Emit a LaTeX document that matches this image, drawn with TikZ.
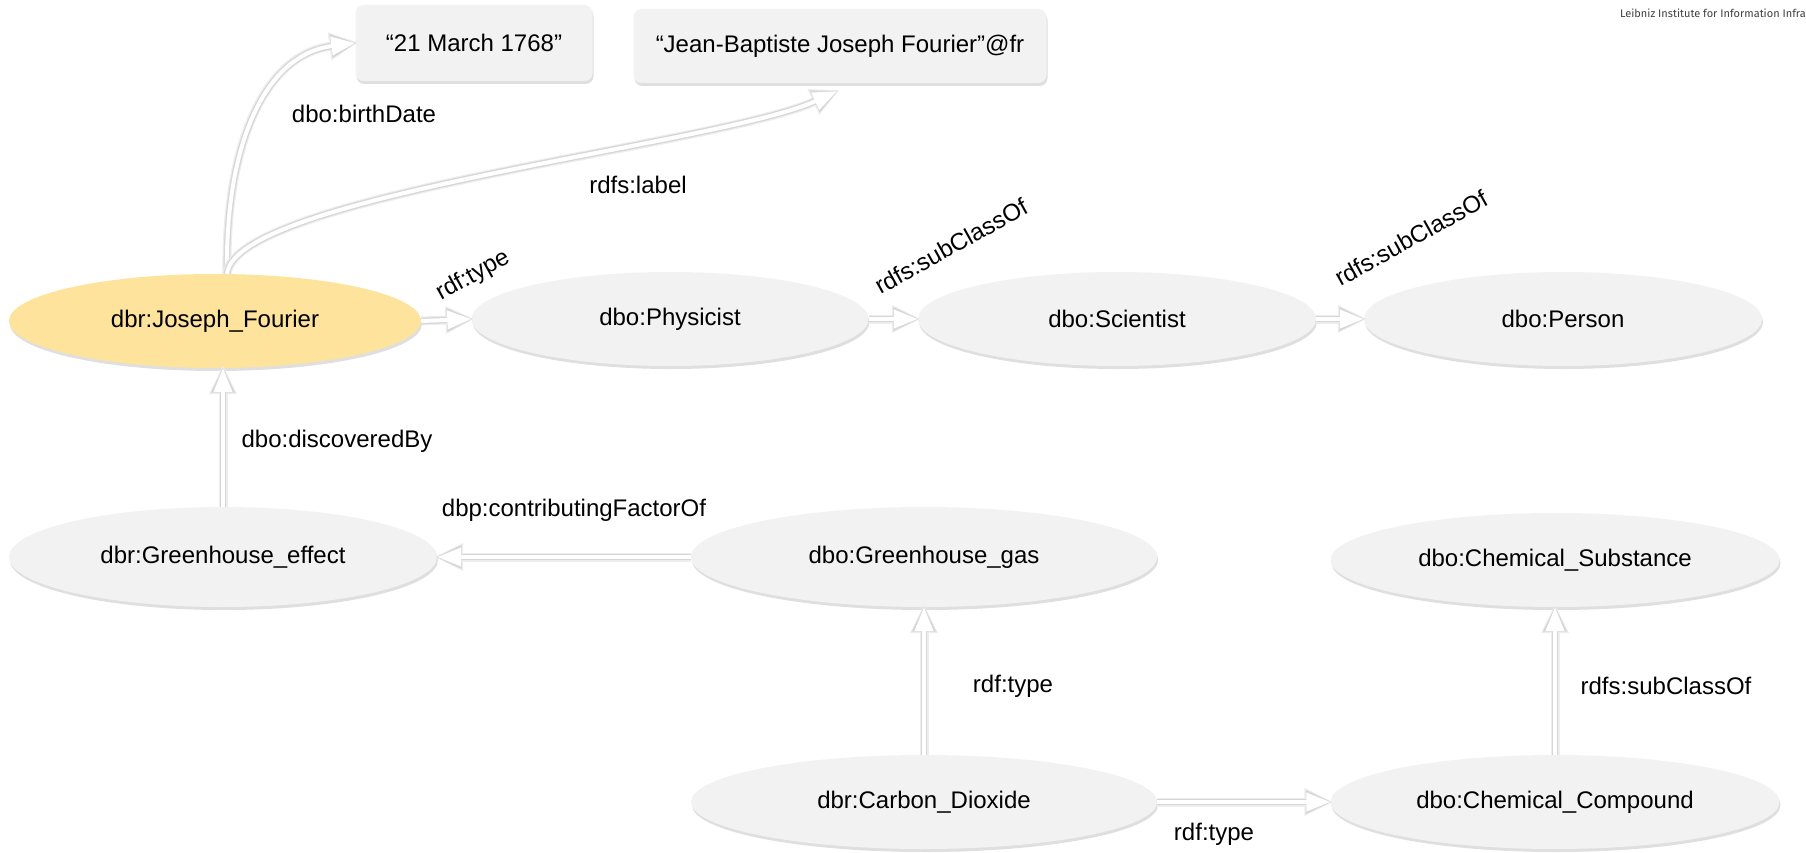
\documentclass[tikz,border=0pt]{standalone}
\usepackage{fontspec}
\setmainfont{Liberation Sans}
\newfontfamily\leibnizfont{Fira Sans}
\usetikzlibrary{shapes.geometric,arrows.meta,shadows,calc}
\definecolor{nodegray}{HTML}{F2F2F2}
\definecolor{fyellow}{HTML}{FDE39B}
\begin{document}
\begin{tikzpicture}[x=1pt,y=-1pt,
  every node/.style={font=\fontsize{24}{28}\selectfont, text=black},
  res/.style={ellipse, fill=nodegray, inner sep=0pt, minimum height=94pt,
    drop shadow={shadow xshift=1pt, shadow yshift=-3pt, opacity=0.25}},
  lit/.style={rectangle, rounded corners=8pt, fill=nodegray, inner sep=0pt,
    drop shadow={shadow xshift=1pt, shadow yshift=-3pt, opacity=0.25}},
  arr/.style={-{Triangle[length=24pt,width=18pt]}, draw=white, line width=4pt,
    preaction={draw=black!7, line width=9pt, shorten >=-3pt,
      -{Triangle[length=29pt,width=26pt]}},
    preaction={draw=black!16, line width=6.5pt, shorten >=-1.5pt,
      -{Triangle[length=26pt,width=22pt]}}},
  lbl/.style={inner sep=0pt}]
\useasboundingbox (0,0) rectangle (1806,853);

% nodes
\node[res, fill=fyellow, minimum width=412pt] (jf) at (215,321) {dbr:Joseph\_Fourier};
\node[res, minimum width=397pt] (ph) at (670,319) {dbo:Physicist};
\node[res, minimum width=398pt] (sc) at (1117,319) {dbo:Scientist};
\node[res, minimum width=398pt] (pe) at (1563,319) {dbo:Person};
\node[res, minimum width=428pt, minimum height=100pt] (ge) at (223,557) {dbr:Greenhouse\_effect};
\node[res, minimum width=466pt, minimum height=100pt] (gg) at (924,557) {dbo:Greenhouse\_gas};
\node[res, minimum width=449pt] (cs) at (1555,560) {dbo:Chemical\_Substance};
\node[res, minimum width=466pt] (cd) at (924,802) {dbr:Carbon\_Dioxide};
\node[res, minimum width=449pt] (cc) at (1555,802) {dbo:Chemical\_Compound};
\node[lit, minimum width=237pt, minimum height=76pt] (bd) at (474,43) {“21 March 1768”};
\node[lit, minimum width=413pt, minimum height=74pt] (jl) at (840,46) {“Jean-Baptiste Joseph Fourier”@fr};

% connectors
\draw[arr] (jf.east) -- (ph.west);
\draw[arr] (ph.east) -- (sc.west);
\draw[arr] (sc.east) -- (pe.west);
\draw[arr] (ge.north) -- (ge.north |- jf.south);
\draw[arr] (gg.west) -- (ge.east);
\draw[arr] (cd.north) -- (cd.north |- gg.south);
\draw[arr] (cd.east) -- (cc.west);
\draw[arr] (cc.north) -- (cc.north |- cs.south);
\draw[arr] ([xshift=12pt]jf.north) .. controls (225,150) and (262,55) .. (bd.west);
\draw[arr] ([xshift=12pt]jf.north) .. controls (235,195) and (720,145) .. ([xshift=-3pt,yshift=-8pt]jl.south);

% edge labels
\node[lbl] (l1) at (364,114) {dbo:birthDate};
\node[lbl] (l2) at (638,185) {rdfs:label};
\node[lbl, rotate=29] (l3) at (473,276) {rdf:type};
\node[lbl, rotate=29] (l4) at (951,246) {rdfs:subClassOf};
\node[lbl, rotate=29] (l5) at (1411,238) {rdfs:subClassOf};
\node[lbl] (l6) at (337,441) {dbo:discoveredBy};
\node[lbl] (l7) at (574,510) {dbp:contributingFactorOf};
\node[lbl] (l8) at (1013,686) {rdf:type};
\node[lbl] (l9) at (1666,686) {rdfs:subClassOf};
\node[lbl] (l10) at (1214,834) {rdf:type};

\node[lbl, anchor=east, font=\leibnizfont\fontsize{11}{13}\selectfont, text=black!75] (inst) at (1806,13) {Leibniz Institute for Information Infra};
\end{tikzpicture}
\end{document}
